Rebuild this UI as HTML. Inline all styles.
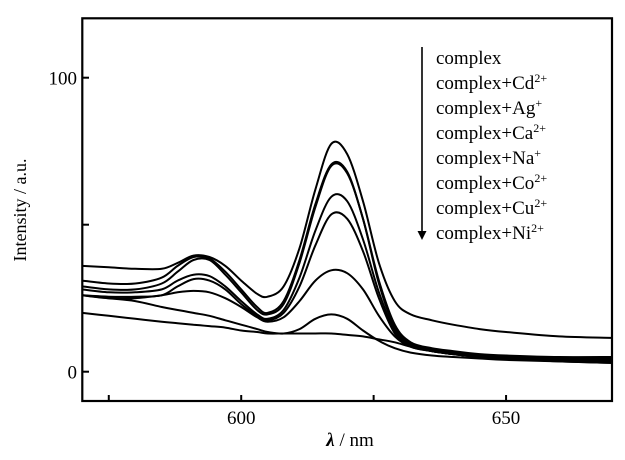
<!DOCTYPE html>
<html><head><meta charset="utf-8"><style>
body{margin:0;background:#fff;}
svg text{font-family:"Liberation Serif",serif;fill:#000;}
</style></head><body>
<svg id="chart" width="625" height="455" viewBox="0 0 625 455">
<g id="curves"></g>
<rect x="82.3" y="18.3" width="529.7" height="382.7" fill="none" stroke="#000" stroke-width="2.2"/>
<g id="axes"></g>
<text x="26" y="210" font-size="18" text-anchor="middle" transform="rotate(-90 26 210)">Intensity / a.u.</text>
<text x="350" y="446" font-size="19" text-anchor="middle"><tspan font-style="italic" font-weight="bold">λ</tspan> / nm</text>
<g>
<line x1="422" y1="47" x2="422" y2="234" stroke="#000" stroke-width="1.6"/>
<path d="M417.5,231 L422,240 L426.5,231 Z" fill="#000"/>
<g font-size="19">
<text x="436" y="64">complex</text>
<text x="436" y="89">complex+Cd<tspan font-size="12" dy="-7">2+</tspan></text>
<text x="436" y="114">complex+Ag<tspan font-size="12" dy="-7">+</tspan></text>
<text x="436" y="139">complex+Ca<tspan font-size="12" dy="-7">2+</tspan></text>
<text x="436" y="164">complex+Na<tspan font-size="12" dy="-7">+</tspan></text>
<text x="436" y="189">complex+Co<tspan font-size="12" dy="-7">2+</tspan></text>
<text x="436" y="214">complex+Cu<tspan font-size="12" dy="-7">2+</tspan></text>
<text x="436" y="239">complex+Ni<tspan font-size="12" dy="-7">2+</tspan></text>
</g></g>
</svg>
<script>
const wavelengths=[570,575,580,585,588,591,594,597,600,603,605,608,611,614,617,620,623,626,629,632,636,640,645,650,660,670];
const sComplex=[36,35.5,35,35,37,39.5,39,36,31,26.5,25.5,29,42,62,77.5,74,58,37,24,19.5,17.5,16,14.5,13.5,12,11.5];
const sCd=[31,30,30,32,36,39,38.5,34,28,22,20,24,38,57,70.5,68,52,31,16,10,8,7,6,5.5,5,5];
const sAg=[29,28,28,30,34,38,38,33,27,21,19.5,23,37,56,70,67.5,52,30,15,9.5,7.5,6.5,5.5,5,4.5,4.5];
const sCa=[28,27,27,28,31,33,32.5,29,24,19.5,18,21,32,48,59.5,58,45,27,14,9,7,6,5,4.5,4,4];
const sNa=[26,25.5,25.5,26,29,31.5,31,28,23,19,17.5,20,29,43,53.5,52,41,25,13,8.5,7,6,5,4.5,4,4];
const sCo=[26,25,25,26,27,27.5,27,25,22,18.5,17,18.5,24,31,34.5,33.5,28,19,12,8.5,7,6,5,4.5,4,3.5];
const sCu=[26,25,24,22,21,20,19,17.5,16,14.5,13.5,13,14.5,18,19.5,18,14,10.5,8,6.5,5.5,5,4.5,4,3.5,3];
const sNi=[20,19,18,17,16.5,16,15.5,15,14,13.5,13,13,13,13,13,12.5,12,11,10,8.5,7,6,5,4.5,3.5,3];
const seriesNames=["complex","cd","ag","ca","na","co","cu","ni"];
const xTicks=[575,600,625,650];
const xTickLabels=["","600","","650"];
const yTicks=[0,50,100];
const yTickLabels=["0","","100"];
const NS="http://www.w3.org/2000/svg";
function xs(v){return 82.3+(v-570)*(529.7/100);}
function ys(v){return 371.7-(v)*2.94;}
function pathFor(vals){
  const p=wavelengths.map((w,i)=>[xs(w),ys(vals[i])]);
  let d="M"+p[0][0].toFixed(1)+","+p[0][1].toFixed(1);
  for(let i=0;i<p.length-1;i++){
    const p0=p[i-1]||p[i],p1=p[i],p2=p[i+1],p3=p[i+2]||p[i+1];
    const c1=[p1[0]+(p2[0]-p0[0])/6,p1[1]+(p2[1]-p0[1])/6];
    const c2=[p2[0]-(p3[0]-p1[0])/6,p2[1]-(p3[1]-p1[1])/6];
    d+="C"+c1[0].toFixed(1)+","+c1[1].toFixed(1)+" "+c2[0].toFixed(1)+","+c2[1].toFixed(1)+" "+p2[0].toFixed(1)+","+p2[1].toFixed(1);
  }
  return d;
}
const g=document.getElementById("curves");
[sComplex,sCd,sAg,sCa,sNa,sCo,sCu,sNi].forEach((s,i)=>{
  const el=document.createElementNS(NS,"path");
  el.setAttribute("d",pathFor(s));
  el.setAttribute("fill","none");
  el.setAttribute("stroke","#000");
  el.setAttribute("stroke-width","2");
  
  
  g.appendChild(el);
});
const ax=document.getElementById("axes");
xTicks.forEach((t,i)=>{
  const l=document.createElementNS(NS,"line");
  l.setAttribute("x1",xs(t));l.setAttribute("x2",xs(t));
  l.setAttribute("y1",401);l.setAttribute("y2",395);
  l.setAttribute("stroke","#000");l.setAttribute("stroke-width","2");
  
  
  ax.appendChild(l);
  if(xTickLabels[i]){
    const tx=document.createElementNS(NS,"text");
    tx.setAttribute("x",xs(t));tx.setAttribute("y",424);
    tx.setAttribute("font-size","19");tx.setAttribute("text-anchor","middle");
    tx.textContent=xTickLabels[i];
    
    
    ax.appendChild(tx);
  }
});
yTicks.forEach((t,i)=>{
  const l=document.createElementNS(NS,"line");
  l.setAttribute("x1",82.3);l.setAttribute("x2",89);
  l.setAttribute("y1",ys(t));l.setAttribute("y2",ys(t));
  l.setAttribute("stroke","#000");l.setAttribute("stroke-width","2");
  
  
  ax.appendChild(l);
  if(yTickLabels[i]){
    const tx=document.createElementNS(NS,"text");
    tx.setAttribute("x",77);tx.setAttribute("y",ys(t)+7);
    tx.setAttribute("font-size","19");tx.setAttribute("text-anchor","end");
    tx.textContent=yTickLabels[i];
    
    
    ax.appendChild(tx);
  }
});
</script>
</body></html>
